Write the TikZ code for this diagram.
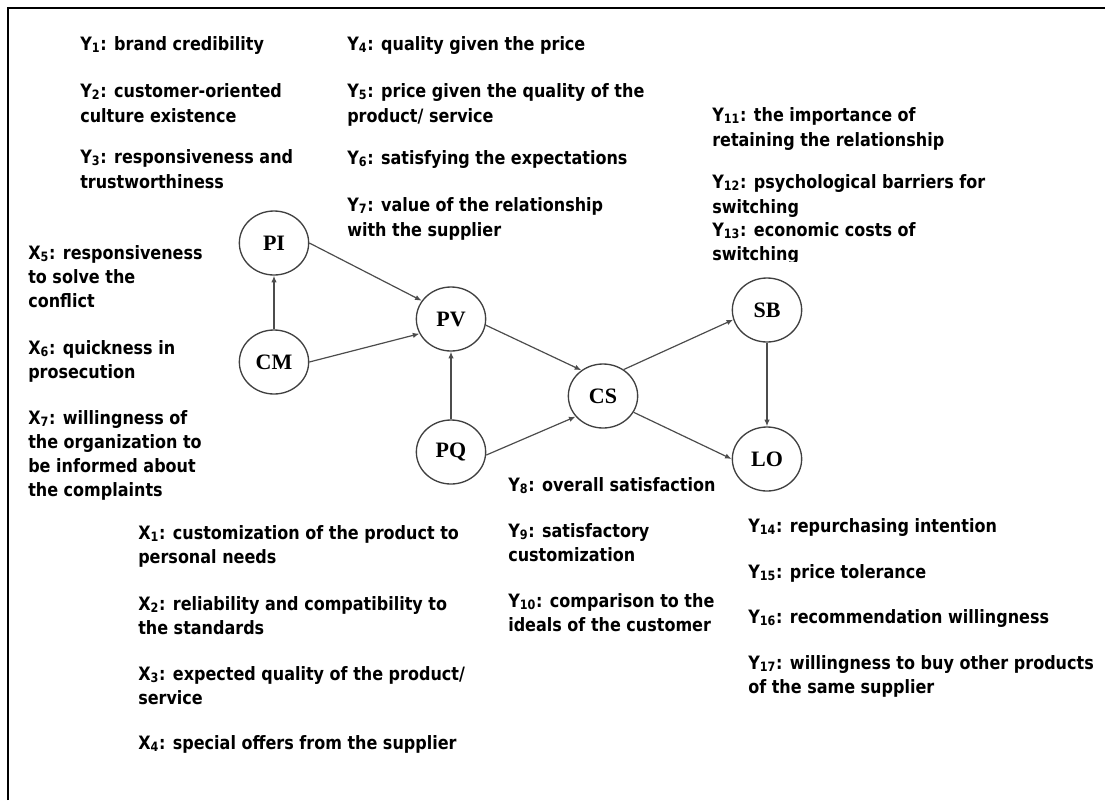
\documentclass[tikz,border=0pt]{standalone}
\usepackage{fontspec}
\setmainfont{DejaVu Sans}[FakeStretch=0.87]
\newfontfamily\nodefont{Liberation Serif}
\usetikzlibrary{shapes.geometric,arrows.meta}
\newcommand\txtline[4]{\node[txt] (#1) at (#2,#3) {#4};}
\begin{document}
\begin{tikzpicture}[x=0.75pt,y=-0.75pt,
 txt/.style={anchor=base west,inner sep=0pt,font=\fontsize{13.8}{17}\selectfont\bfseries},
 var/.style={draw=black!75,line width=1pt,ellipse,minimum width=52pt,minimum height=48pt,inner sep=0pt,font=\nodefont\fontsize{16.5}{18}\selectfont\bfseries},
 arr/.style={draw=black!70,line width=0.9pt,-{Latex[length=5pt,width=4pt]}},
 frame/.style={draw=black,line width=1.6pt}]
\useasboundingbox (0,0) rectangle (1105,800);
\draw[frame] (8,800) -- (8,8) -- (1105,8);

% top-left items
\txtline{y1}{80}{50}{Y\textsubscript{1}: brand credibility}
\txtline{y2a}{80}{97}{Y\textsubscript{2}: customer-oriented}
\txtline{y2b}{80}{122}{culture existence}
\txtline{y3a}{80}{163}{Y\textsubscript{3}: responsiveness and}
\txtline{y3b}{80}{188}{trustworthiness}
% top-middle items
\txtline{y4}{347}{50}{Y\textsubscript{4}: quality given the price}
\txtline{y5a}{347}{97}{Y\textsubscript{5}: price given the quality of the}
\txtline{y5b}{347}{122}{product/ service}
\txtline{y6}{347}{164}{Y\textsubscript{6}: satisfying the expectations}
\txtline{y7a}{347}{211}{Y\textsubscript{7}: value of the relationship}
\txtline{y7b}{347}{236}{with the supplier}
% top-right items
\txtline{y11a}{712}{121}{Y\textsubscript{11}: the importance of}
\txtline{y11b}{712}{146}{retaining the relationship}
\txtline{y12a}{712}{188}{Y\textsubscript{12}: psychological barriers for}
\txtline{y12b}{712}{213}{switching}
\txtline{y13a}{712}{236}{Y\textsubscript{13}: economic costs of}
\begin{scope}
\clip (700,240) rectangle (1000,261);
\txtline{y13b}{712}{260}{switching}
\end{scope}
% left items
\txtline{x5a}{28}{259}{X\textsubscript{5}: responsiveness}
\txtline{x5b}{28}{283}{to solve the}
\txtline{x5c}{28}{307}{conflict}
\txtline{x6a}{28}{354}{X\textsubscript{6}: quickness in}
\txtline{x6b}{28}{378}{prosecution}
\txtline{x7a}{28}{424}{X\textsubscript{7}: willingness of}
\txtline{x7b}{28}{448}{the organization to}
\txtline{x7c}{28}{472}{be informed about}
\txtline{x7d}{28}{496}{the complaints}
% bottom-left items
\txtline{x1a}{138}{539}{X\textsubscript{1}: customization of the product to}
\txtline{x1b}{138}{563}{personal needs}
\txtline{x2a}{138}{610}{X\textsubscript{2}: reliability and compatibility to}
\txtline{x2b}{138}{634}{the standards}
\txtline{x3a}{138}{680}{X\textsubscript{3}: expected quality of the product/}
\txtline{x3b}{138}{704}{service}
\txtline{x4}{138}{749}{X\textsubscript{4}: special offers from the supplier}
% bottom-middle items
\txtline{y8}{508}{491}{Y\textsubscript{8}: overall satisfaction}
\txtline{y9a}{508}{537}{Y\textsubscript{9}: satisfactory}
\txtline{y9b}{508}{561}{customization}
\txtline{y10a}{508}{607}{Y\textsubscript{10}: comparison to the}
\txtline{y10b}{508}{631}{ideals of the customer}
% bottom-right items
\txtline{y14}{748}{532}{Y\textsubscript{14}: repurchasing intention}
\txtline{y15}{748}{578}{Y\textsubscript{15}: price tolerance}
\txtline{y16}{748}{623}{Y\textsubscript{16}: recommendation willingness}
\txtline{y17a}{748}{669}{Y\textsubscript{17}: willingness to buy other products}
\txtline{y17b}{748}{693}{of the same supplier}

% construct nodes
\node[var] (PI) at (274,243) {PI};
\node[var] (CM) at (274,362) {CM};
\node[var] (PV) at (451,319) {PV};
\node[var] (PQ) at (451,452) {PQ};
\node[var] (CS) at (603,396) {CS};
\node[var] (SB) at (767,310) {SB};
\node[var] (LO) at (767,459) {LO};

% connectors
\draw[arr] (CM) -- (PI);
\draw[arr] (PI.0) -- (PV.148);
\draw[arr] (CM.0) -- (PV.205);
\draw[arr] (PQ) -- (PV);
\draw[arr] (PV.-10) -- (CS.130);
\draw[arr] (PQ.-5) -- (CS.217);
\draw[arr] (CS.52) -- (SB.196);
\draw[arr] (CS.-28) -- (LO.180);
\draw[arr] (SB) -- (LO);
\end{tikzpicture}
\end{document}
